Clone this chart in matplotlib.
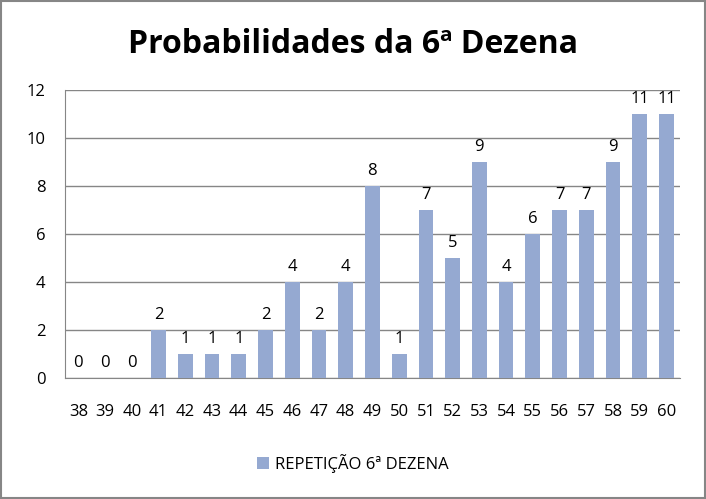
import matplotlib.pyplot as plt
from matplotlib.patches import Rectangle

# chart data
dezenas = ['38', '39', '40', '41', '42', '43', '44', '45', '46', '47', '48', '49',
           '50', '51', '52', '53', '54', '55', '56', '57', '58', '59', '60']
repeticoes = [0, 0, 0, 2, 1, 1, 1, 2, 4, 2, 4, 8, 1, 7, 5, 9, 4, 6, 7, 7, 9, 11, 11]
y_ticks = [0, 2, 4, 6, 8, 10, 12]

plt.rcParams['font.family'] = ['Open Sans', 'DejaVu Sans']

fig = plt.figure(figsize=(7.06, 4.99), dpi=100)
ax = fig.add_axes([0.092, 0.2425, 0.871, 0.577])

x = range(len(dezenas))
bars = ax.bar(x, repeticoes, width=0.55, color='#95A9D1',
              label='REPETIÇÃO 6ª DEZENA', zorder=3)

for xi, v in zip(x, repeticoes):
    ax.annotate(str(v), (xi, v), xytext=(0, 5), textcoords='offset points',
                ha='center', va='bottom', fontsize=12, color='#000000')

ax.set_xlim(-0.5, len(dezenas) - 0.5)
ax.set_ylim(0, 12)
ax.set_yticks(y_ticks)
ax.set_xticks(list(x))
ax.set_xticklabels(dezenas)
ax.tick_params(axis='both', length=0, labelsize=12, colors='#000000')
ax.tick_params(axis='x', pad=19)
ax.tick_params(axis='y', pad=14)
ax.yaxis.grid(True, color='#868686', linewidth=1, zorder=0)

for side in ['top', 'right']:
    ax.spines[side].set_visible(False)
ax.spines['left'].set_color('#868686')
ax.spines['bottom'].set_color('#868686')

fig.text(0.5, 0.91, 'Probabilidades da 6ª Dezena', ha='center', va='center',
         fontsize=23, fontweight='bold')

fig.legend(loc='center', bbox_to_anchor=(0.5, 0.072), frameon=False,
           fontsize=12, handlelength=0.7, handleheight=0.7, handletextpad=0.4)

fig.patches.append(Rectangle((0.002, 0.003), 0.996, 0.994, transform=fig.transFigure,
                             fill=False, edgecolor='#868686', linewidth=1.5))

plt.savefig('out.png', dpi=100)
